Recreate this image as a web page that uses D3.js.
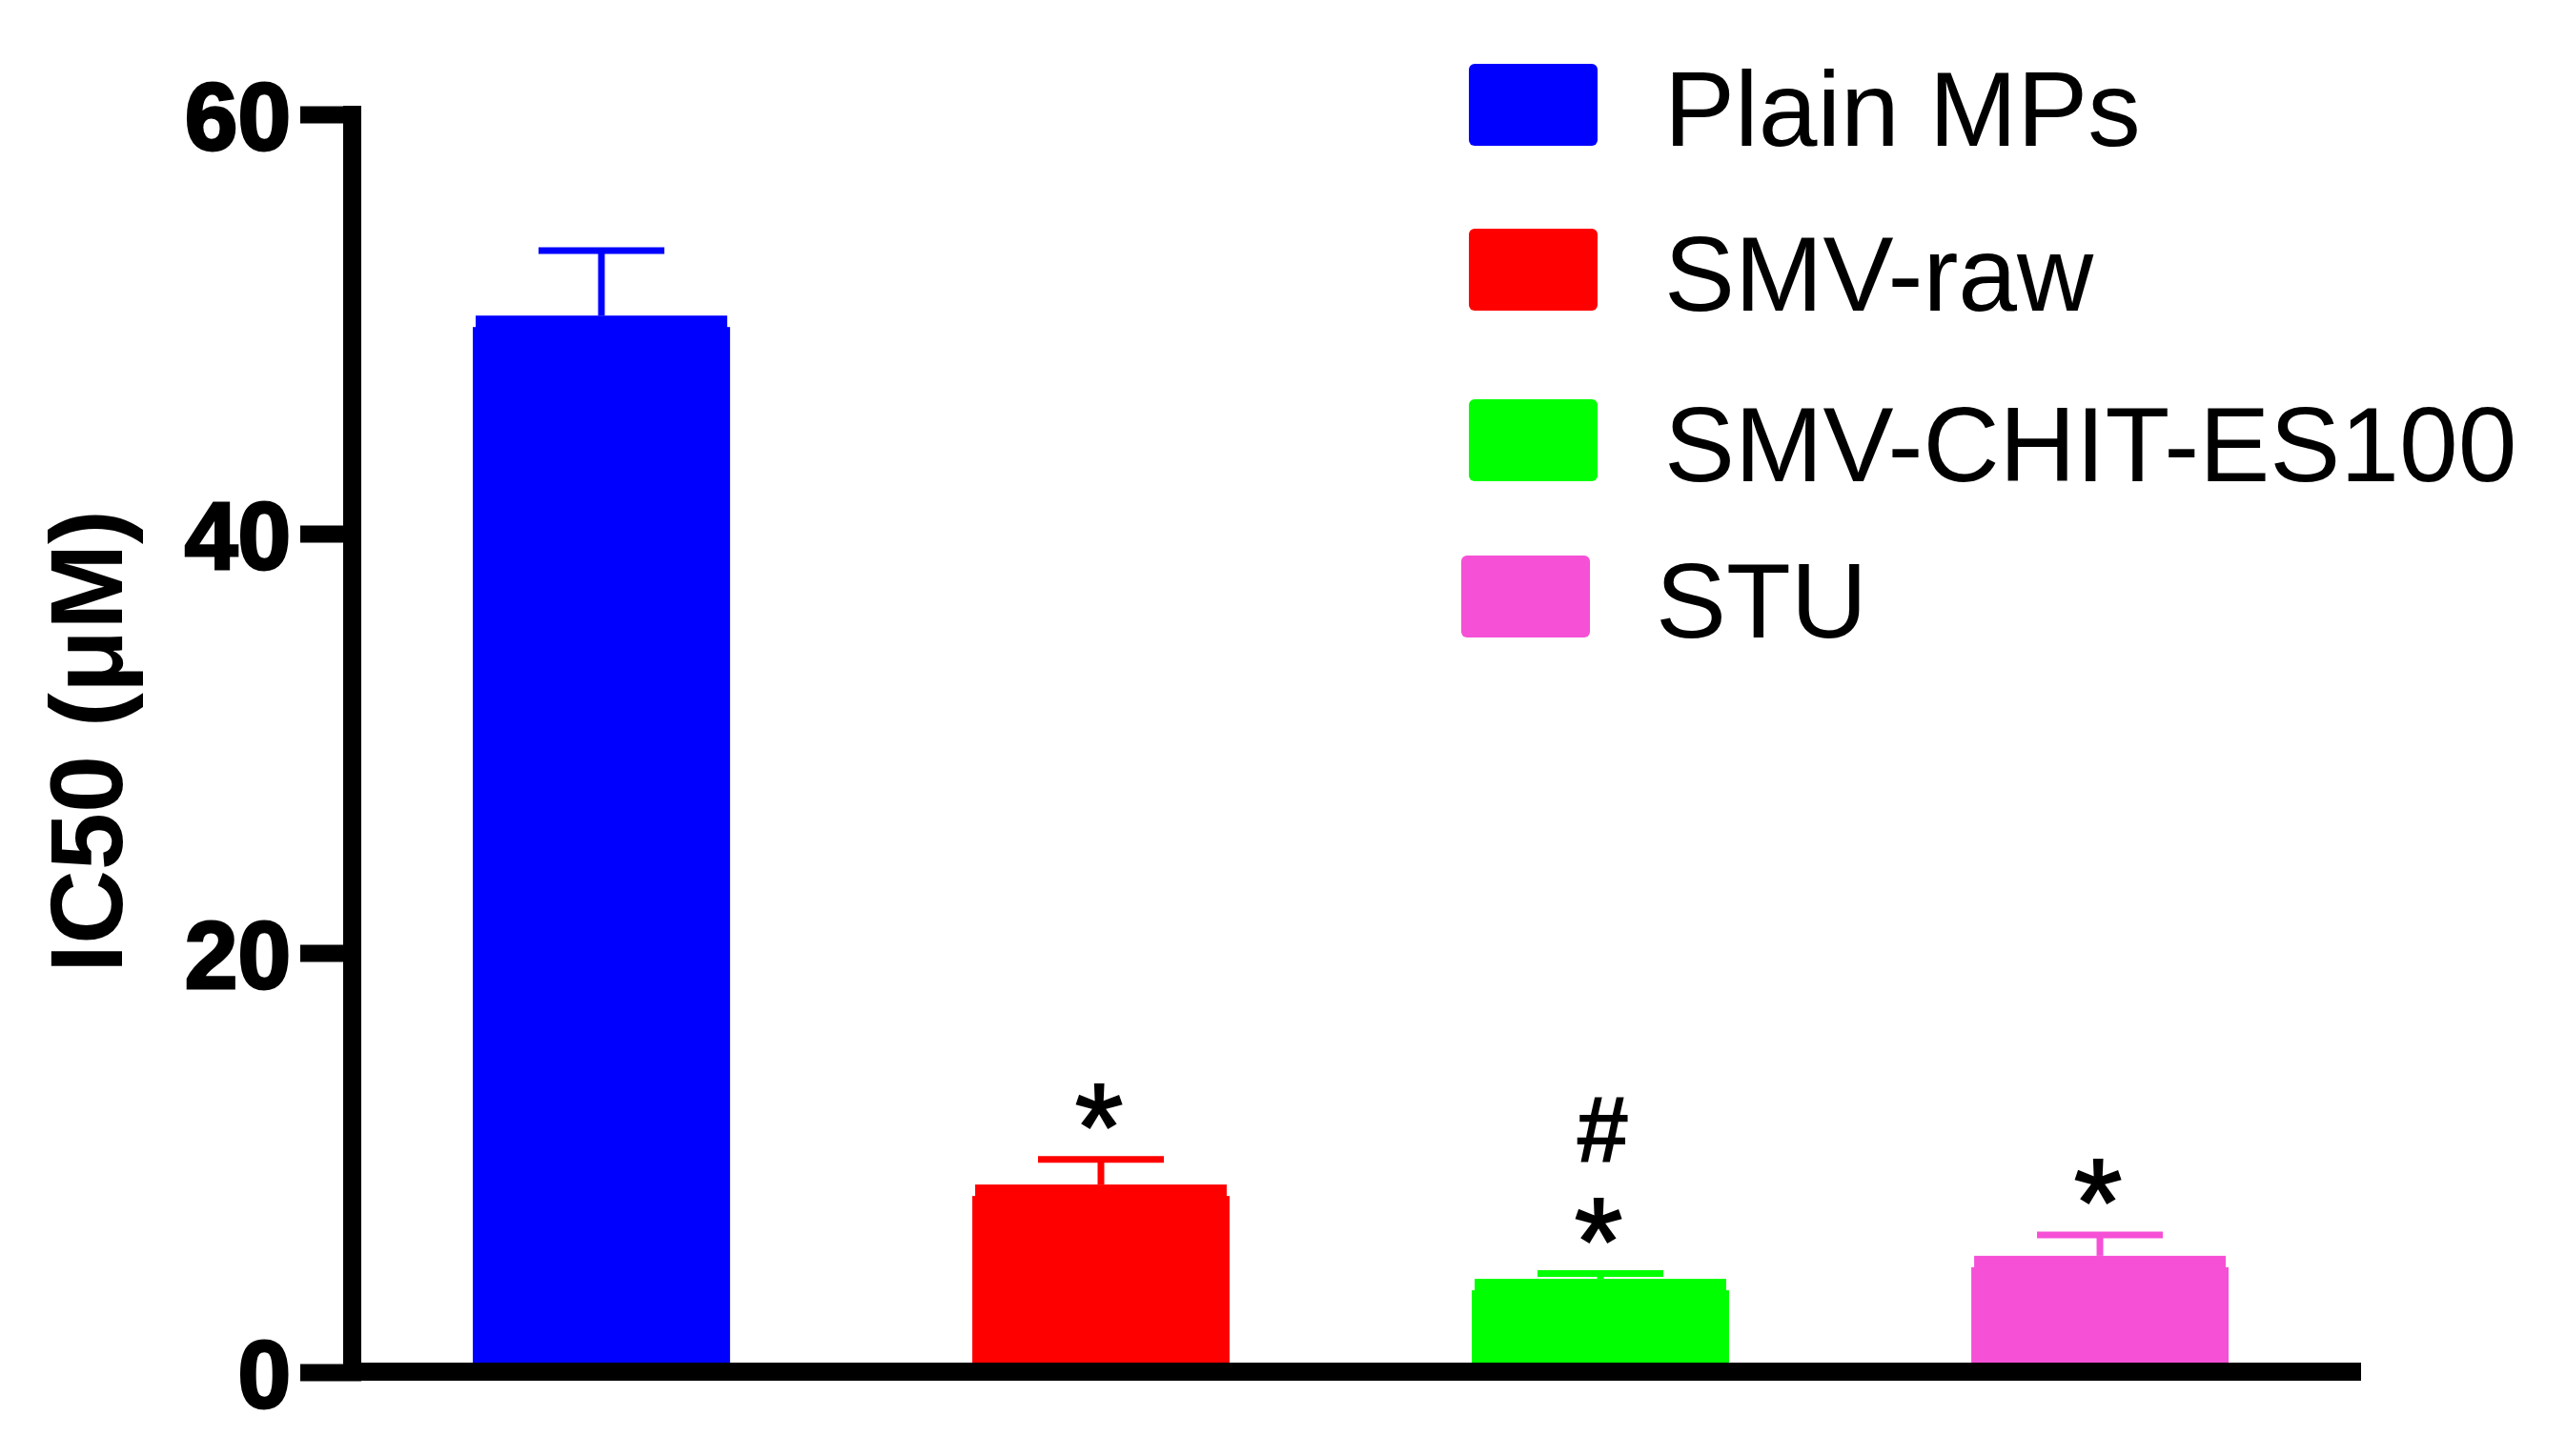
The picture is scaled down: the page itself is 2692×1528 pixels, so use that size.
<!DOCTYPE html>
<html>
<head>
<meta charset="utf-8">
<script src="https://cdn.jsdelivr.net/npm/d3@7"></script>
<style>
  html, body { margin: 0; padding: 0; background: #fff; }
  svg { display: block; }
</style>
</head>
<body>
<svg id="chart" width="2692" height="1528"></svg>
<script>
// ---- data ----
const categories = ["Plain MPs", "SMV-raw", "SMV-CHIT-ES100", "STU"];
const ic50Mean = [50.4, 8.95, 4.45, 5.55];
const ic50Err = [3.1, 1.2, 0.25, 1.0];
const colors = ["#0000FF", "#FF0000", "#00FF00", "#F550D6"];
const starMarks = ["", "*", "*", "*"];
const hashMarks = ["", "", "#", ""];
const yTicks = [0, 20, 40, 60];
const yLabel = "IC50 (\u03BCM)";

// ---- layout ----
const FONT = "'Liberation Sans', Arial, Helvetica, sans-serif";
const svg = d3.select("#chart");

const y = d3.scaleLinear().domain([0, 60]).range([1440, 120]);
const x = d3.scaleBand().domain(categories)
  .range([369, 2465]).paddingInner(0.485).paddingOuter(0.2424);

// bars (with slight notched top like the reference)
const bars = svg.append("g");
categories.forEach((c, i) => {
  const x0 = x(c), w = x.bandwidth(), top = y(ic50Mean[i]);
  bars.append("rect").attr("x", x0).attr("y", top + 12)
    .attr("width", w).attr("height", y(0) - top - 12).attr("fill", colors[i]);
  bars.append("rect").attr("x", x0 + 3).attr("y", top)
    .attr("width", w - 6).attr("height", 13).attr("fill", colors[i]);
});

// error bars (upper only)
const err = svg.append("g");
categories.forEach((c, i) => {
  const cx = x(c) + x.bandwidth() / 2;
  const top = y(ic50Mean[i] + ic50Err[i]);
  err.append("line").attr("x1", cx).attr("x2", cx)
    .attr("y1", y(ic50Mean[i])).attr("y2", top)
    .attr("stroke", colors[i]).attr("stroke-width", 7);
  err.append("line").attr("x1", cx - 66).attr("x2", cx + 66)
    .attr("y1", top).attr("y2", top)
    .attr("stroke", colors[i]).attr("stroke-width", 7);
});

// significance marks
const ann = svg.append("g").attr("font-family", FONT).attr("fill", "#000").attr("text-anchor", "middle");
categories.forEach((c, i) => {
  const cx = x(c) + x.bandwidth() / 2 - 2;
  const base = y(ic50Mean[i] + ic50Err[i]) + 11;
  if (starMarks[i]) {
    ann.append("text").attr("x", cx).attr("y", base)
      .attr("font-size", 130).attr("stroke", "#000").attr("stroke-width", 2)
      .text(starMarks[i]);
  }
  if (hashMarks[i]) {
    ann.append("text").attr("x", cx + 4).attr("y", base - 128)
      .attr("font-size", 101).attr("font-weight", "bold").text(hashMarks[i]);
  }
});

// y axis
const yAxis = d3.axisLeft(y).tickValues(yTicks).tickSize(64).tickPadding(10);
const gy = svg.append("g").attr("transform", "translate(379,0)").call(yAxis);
gy.select(".domain").remove();
gy.selectAll(".tick line").attr("stroke", "#000").attr("stroke-width", 18);
gy.selectAll(".tick text").attr("fill", "#000")
  .attr("stroke", "#000").attr("stroke-width", 3)
  .attr("font-family", FONT).attr("font-weight", "bold").attr("font-size", 100)
  .attr("dy", "0.36em");

// axis lines
svg.append("rect").attr("x", 360).attr("y", 111).attr("width", 19).attr("height", 1449 - 111).attr("fill", "#000");
svg.append("rect").attr("x", 360).attr("y", 1430).attr("width", 2477 - 360).attr("height", 19).attr("fill", "#000");

// y label
svg.append("text")
  .attr("transform", "translate(128,778) rotate(-90)")
  .attr("text-anchor", "middle")
  .attr("font-family", FONT).attr("font-weight", "bold").attr("font-size", 108)
  .attr("fill", "#000").text(yLabel);

// legend
const legendRows = [
  { sx: 1541, tx: 1746, base: 153 },
  { sx: 1541, tx: 1746, base: 326 },
  { sx: 1541, tx: 1746, base: 505 },
  { sx: 1533, tx: 1737, base: 669 }
];
const leg = svg.append("g");
categories.forEach((c, i) => {
  const r = legendRows[i];
  leg.append("rect").attr("x", r.sx).attr("y", r.base - 86)
    .attr("width", 135).attr("height", 86).attr("rx", 6).attr("fill", colors[i]);
  leg.append("text").attr("x", r.tx).attr("y", r.base)
    .attr("font-family", FONT).attr("font-size", 111).attr("fill", "#000").text(c);
});
</script>
</body>
</html>
